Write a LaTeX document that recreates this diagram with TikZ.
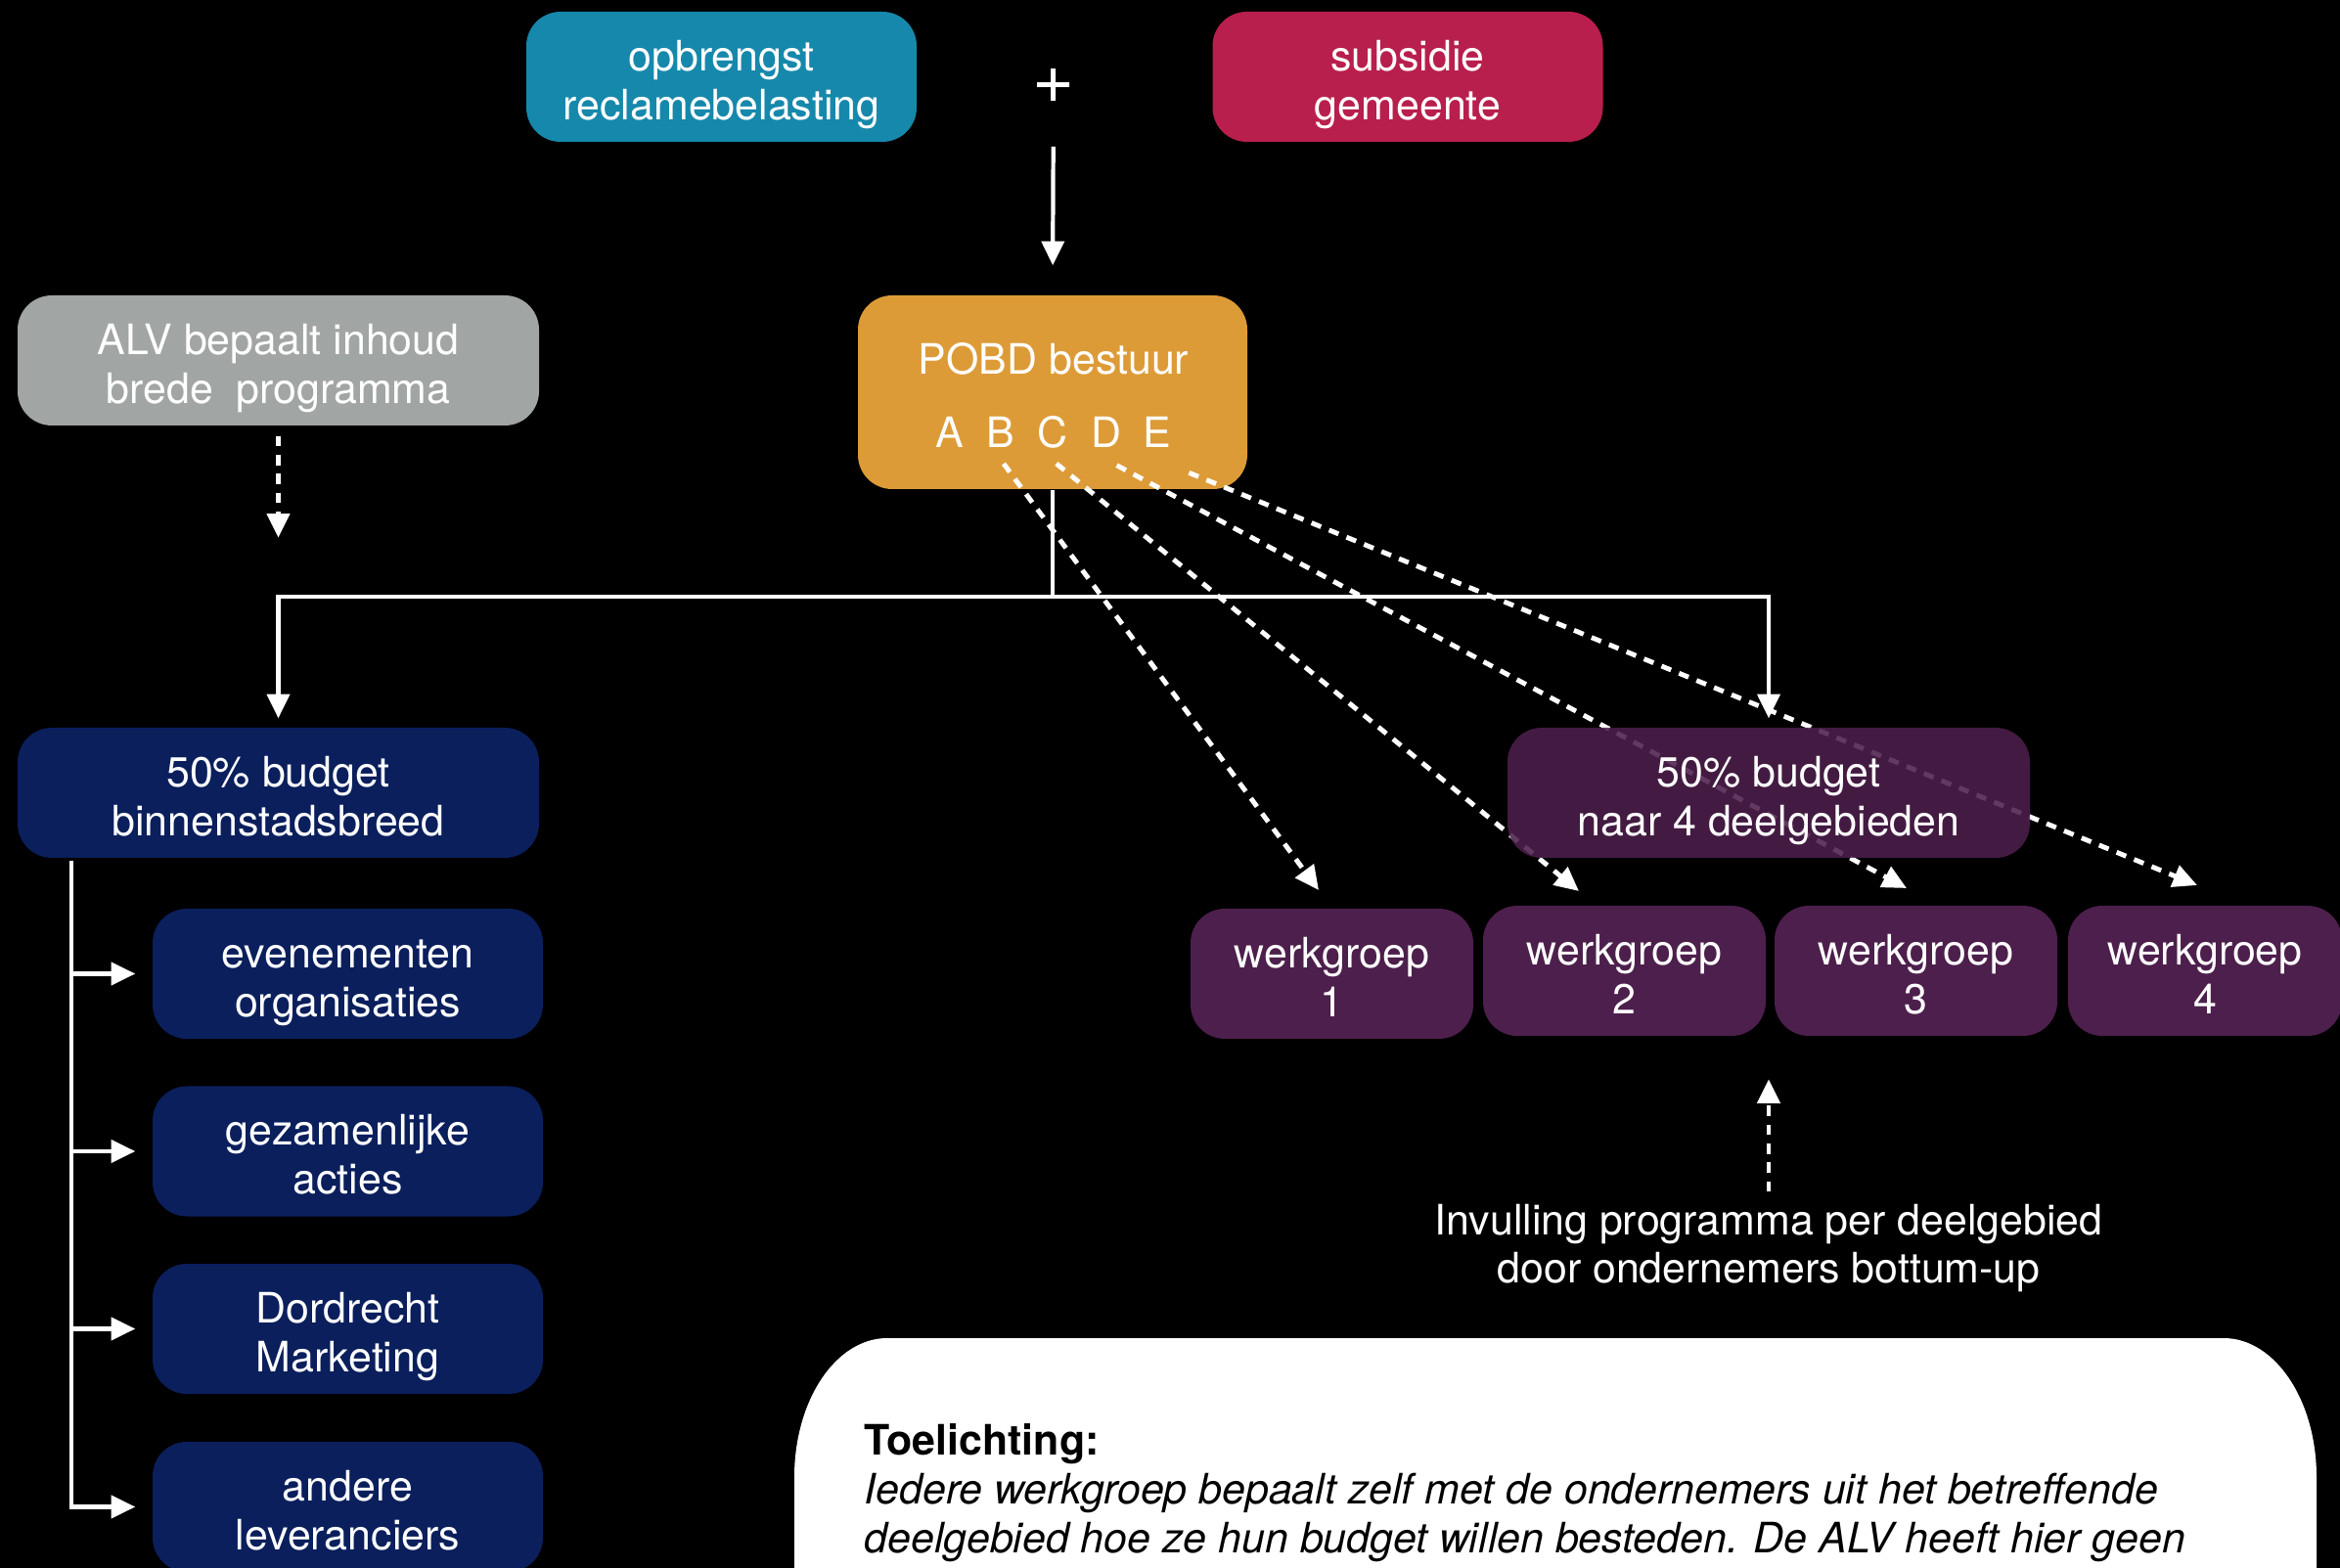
\documentclass[tikz,border=0pt]{standalone}
\usepackage{fontspec}
\setmainfont{TeX Gyre Heros}
\usetikzlibrary{arrows.meta,positioning,calc}
\definecolor{reclameblue}{HTML}{1688AC}
\definecolor{gemeentered}{HTML}{B81F4C}
\definecolor{alvgrey}{HTML}{A1A5A3}
\definecolor{bestuurorange}{HTML}{DD9B37}
\definecolor{breednavy}{HTML}{0A1F5C}
\definecolor{deelpurple}{HTML}{4D1F4C}
\newcommand{\hoog}{\rule{0pt}{13.3pt}}
\newcommand{\diep}{\rule[-2.6pt]{0pt}{0pt}}

\begin{document}
\begin{tikzpicture}[>={Triangle[length=7pt,width=6.5pt]},
        font=\fontsize{12.2}{14.2}\selectfont,
        box/.style={rounded corners=0.35cm, text=white, align=center, inner sep=0pt, minimum height=1.33cm},
        flow/.style={white, line width=1.2pt},
        dots/.style={white, line width=1.4pt, dash pattern=on 3pt off 2.5pt}]
        % background
        \fill[black] (0,0) rectangle (23.92,-16.03);
        \useasboundingbox (0,0) rectangle (23.92,-16.03);

        % sources (top)
        \node[box, fill=reclameblue, minimum width=3.99cm] (reclame) at (7.375,-0.785) {\hoog opbrengst\\reclamebelasting\diep};
        \node[box, fill=gemeentered, minimum width=3.99cm] (subsidie) at (14.39,-0.785) {\hoog subsidie\\gemeente\diep};
        \node[text=white, font=\fontsize{21}{21}\selectfont] (plus) at (10.77,-0.88) {+};

        % ALV (left)
        \node[box, fill=alvgrey, minimum width=5.33cm] (alv) at (2.845,-3.685) {\hoog ALV bepaalt inhoud\\brede\ \ programma\diep};

        % POBD bestuur
        \node[box, fill=bestuurorange, minimum width=3.98cm, minimum height=1.98cm] (pobd) at (10.76,-4.01) {};
        \node[text=white] (pobdlabel) at (10.77,-3.67) {POBD bestuur};
        \node[text=white] (lA) at (9.71,-4.42) {A};
        \node[text=white] (lB) at (10.23,-4.42) {B};
        \node[text=white] (lC) at (10.76,-4.42) {C};
        \node[text=white] (lD) at (11.31,-4.42) {D};
        \node[text=white] (lE) at (11.83,-4.42) {E};

        % ends of the dotted arrows
        \coordinate (tB) at (13.48,-9.10);
        \coordinate (tC) at (16.14,-9.11);
        \coordinate (tD) at (19.49,-9.08);
        \coordinate (tE) at (22.46,-9.05);
        \coordinate (split) at (10.76,-6.10);

        % Arrows
        \draw[flow,->, shorten <=0.62cm, shorten >=0.3cm] (plus.center) -- (pobd.north);
        \draw[dots,->, shorten <=1mm] (alv.south) -- ++(0,-1.14);
        \draw[dots,->, shorten <=0.05cm] (lB.south) -- (tB);
        \draw[dots,->, shorten <=0.05cm] (lC.south) -- (tC);
        \draw[dots,->, shorten <=0.12cm] (lD.south) -- (tD);
        \draw[dots,->, shorten <=0.35cm] (lE.south) -- (tE);

        % 50% budgets
        \node[box, fill=breednavy, minimum width=5.33cm] (breed) at (2.845,-8.105) {\hoog 50\% budget\\binnenstadsbreed\diep};
        \node[box, fill=deelpurple, fill opacity=0.88, text opacity=1, minimum width=5.34cm] (deel) at (18.08,-8.105) {\hoog 50\% budget\\naar 4 deelgebieden\diep};
        \draw[flow] (pobd.south) -- (split);
        \draw[flow,->, shorten >=0.9mm] (split) -| (breed.north);
        \draw[flow,->, shorten >=0.9mm] (split) -| (deel.north);

        % werkgroepen
        \node[box, fill=deelpurple, minimum width=2.89cm] (wg1) at (13.615,-9.955) {\hoog werkgroep\\1\diep};
        \node[box, fill=deelpurple, minimum width=2.89cm] (wg2) at (16.605,-9.925) {\hoog werkgroep\\2\diep};
        \node[box, fill=deelpurple, minimum width=2.89cm] (wg3) at (19.585,-9.925) {\hoog werkgroep\\3\diep};
        \node[box, fill=deelpurple, minimum width=2.80cm] (wg4) at (22.54,-9.925) {\hoog werkgroep\\4\diep};

        \node[text=white, align=center] (inv) at (18.08,-12.76) {Invulling programma per deelgebied\\door ondernemers bottum-up};
        \draw[dots,->] (inv.north) -- ++(0,1.15);

        % binnenstadsbreed items
        \node[box, fill=breednavy, minimum width=3.99cm] (c1) at (3.555,-9.955) {\hoog evenementen\\organisaties\diep};
        \node[box, fill=breednavy, minimum width=3.99cm] (c2) at (3.555,-11.77) {\hoog gezamenlijke\\acties\diep};
        \node[box, fill=breednavy, minimum width=3.99cm] (c3) at (3.555,-13.585) {\hoog Dordrecht\\Marketing\diep};
        \node[box, fill=breednavy, minimum width=3.99cm] (c4) at (3.555,-15.405) {\hoog andere\\leveranciers\diep};
        \coordinate (trunk) at (0.73,-8.80);
        \draw[flow,->, shorten >=0.17cm] (trunk) |- (c1.west);
        \draw[flow,->, shorten >=0.17cm] (trunk) |- (c2.west);
        \draw[flow,->, shorten >=0.17cm] (trunk) |- (c3.west);
        \draw[flow,->, shorten >=0.17cm] (trunk) |- (c4.west);

        % Toelichting (bottom)
        \fill[white] (8.12,-17) -- (8.12,-15.1) arc[start angle=180, end angle=90, x radius=0.95, y radius=1.42]
            -- (22.73,-13.68) arc[start angle=90, end angle=0, x radius=0.95, y radius=1.42] -- (23.68,-17) -- cycle;
        \node[anchor=base west, inner sep=0pt] (uitleg1) at (8.83,-14.87) {\textbf{Toelichting:}};
        \node[anchor=base west, inner sep=0pt] (uitleg2) at (8.83,-15.37) {\textit{Iedere werkgroep bepaalt zelf met de ondernemers uit het betreffende}};
        \node[anchor=base west, inner sep=0pt] (uitleg3) at (8.83,-15.87) {\textit{deelgebied hoe ze hun budget willen besteden. De ALV heeft hier geen}};
\end{tikzpicture}
\end{document}
